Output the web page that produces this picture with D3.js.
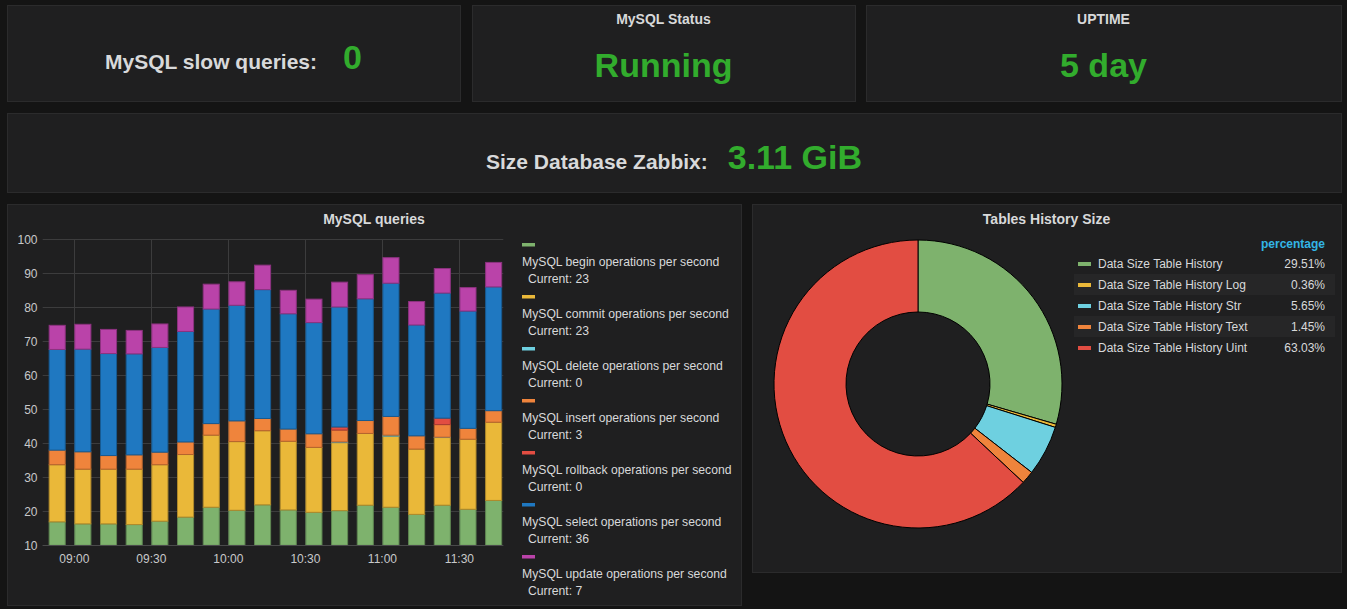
<!DOCTYPE html>
<html><head><meta charset="utf-8">
<script src="https://cdn.jsdelivr.net/npm/d3@7"></script>
<style>
body{margin:0;background:#141414;overflow:hidden}
svg{display:block}
text{font-family:"Liberation Sans",Arial,Helvetica,sans-serif}
</style>
</head><body>
<svg id="c" width="1347" height="609"></svg>
<script>
// ---------- DATA ----------
const times = ["08:50","09:00","09:10","09:20","09:30","09:40","09:50","10:00","10:10","10:20","10:30","10:40","10:50","11:00","11:10","11:20","11:30","11:40"];
const seriesNames = ["MySQL begin operations per second","MySQL commit operations per second","MySQL delete operations per second","MySQL insert operations per second","MySQL rollback operations per second","MySQL select operations per second","MySQL update operations per second"];
const seriesKeys = ["begin","commit","delete","insert","rollback","select","update"];
const seriesColors = ["#7EB26D","#EAB839","#6ED0E0","#EF843C","#E24D42","#1F78C1","#BA43A9"];
const currentValues = [23,23,0,3,0,36,7];
const beginOps    = [16.9,16.3,16.3,16.1,17.1,18.3,21.2,20.3,21.9,20.4,19.7,20.2,21.8,21.2,19.1,21.8,20.6,23.2];
const commitOps   = [16.8,16.1,16.1,16.3,16.6,18.4,21.2,20.2,21.8,20.2,19.1,20.0,21.1,20.9,19.2,19.9,20.6,23.0];
const deleteOps   = [0,0,0,0,0,0,0,0,0,0,0,0.2,0,0.3,0,0.1,0,0];
const insertOps   = [4.3,5.1,4.0,4.2,3.7,3.7,3.4,6.1,3.6,3.6,4.0,3.5,3.8,5.5,3.9,3.7,3.2,3.4];
const rollbackOps = [0,0,0,0,0,0,0,0,0,0,0,0.9,0,0,0,1.9,0,0];
const selectOps   = [29.6,30.2,30.0,29.7,30.8,32.5,33.7,34.0,37.9,33.9,32.7,35.3,35.8,39.2,32.6,36.8,34.5,36.4];
const updateOps   = [7.1,7.3,7.1,6.9,6.9,7.2,7.3,6.9,7.2,6.9,6.9,7.3,7.1,7.5,6.9,7.2,6.9,7.2];
const yTicks = [10,20,30,40,50,60,70,80,90,100];
const xTickLabels = ["09:00","09:30","10:00","10:30","11:00","11:30"];

const pieNames = ["Data Size Table History","Data Size Table History Log","Data Size Table History Str","Data Size Table History Text","Data Size Table History Uint"];
const pieValues = [29.51,0.36,5.65,1.45,63.03];
const pieColors = ["#7EB26D","#EAB839","#6ED0E0","#EF843C","#E24D42"];

const statSlow = {label:"MySQL slow queries:", value:"0"};
const statStatus = {title:"MySQL Status", value:"Running"};
const statUptime = {title:"UPTIME", value:"5 day"};
const statSize = {label:"Size Database Zabbix:", value:"3.11 GiB"};

// ---------- DRAW ----------
const svg = d3.select("#c");
const PANEL_BG = "#1f1f20", PANEL_BORDER = "#2b2b2c", TXT = "#d8d9da", GREEN = "#32ac2d";

function panel(x0,y0,x1,y1){
  svg.append("rect").attr("x",x0+0.5).attr("y",y0+0.5).attr("width",x1-x0).attr("height",y1-y0)
    .attr("fill",PANEL_BG).attr("stroke",PANEL_BORDER);
}
panel(7,5,460,101);
panel(472,5,855,101);
panel(866,5,1341,101);
panel(7,113,1341,192);
panel(7,204,741,605);
panel(752,204,1341,572);

function statPair(cx, base, label, value, gap, lsize, vsize){
  const t = svg.append("text").attr("x",cx).attr("y",base).attr("text-anchor","middle").attr("font-weight","bold");
  t.append("tspan").attr("font-size",lsize).attr("fill",TXT).text(label);
  t.append("tspan").attr("dx",gap).attr("font-size",vsize).attr("fill",GREEN).text(value);
}
statPair(233.5, 69, statSlow.label, statSlow.value, 26, 21, 34);
statPair(674, 169, statSize.label, statSize.value, 20, 21, 34);

function title(cx, base, txt, size){
  svg.append("text").attr("x",cx).attr("y",base).attr("text-anchor","middle")
    .attr("font-weight","bold").attr("font-size",size).attr("fill",TXT).text(txt);
}
title(663.5, 24, statStatus.title, 14);
title(1103.5, 24, statUptime.title, 14);
svg.append("text").attr("x",663.5).attr("y",77).attr("text-anchor","middle").attr("font-weight","bold")
  .attr("font-size",34).attr("fill",GREEN).text(statStatus.value);
svg.append("text").attr("x",1103.5).attr("y",77).attr("text-anchor","middle").attr("font-weight","bold")
  .attr("font-size",34).attr("fill",GREEN).text(statUptime.value);

title(374, 224, "MySQL queries", 14);
title(1046.5, 224, "Tables History Size", 14);

// ---- bar chart ----
const parse = s => { const [h,m]=s.split(":").map(Number); return new Date(2024,0,1,h,m); };
const seriesArrays = [beginOps,commitOps,deleteOps,insertOps,rollbackOps,selectOps,updateOps];
const rows = times.map((t,i)=>{ const r={time:parse(t)}; seriesKeys.forEach((k,j)=>r[k]=seriesArrays[j][i]); return r; });

const x = d3.scaleTime().domain([new Date(2024,0,1,8,47,41), new Date(2024,0,1,11,47,5)]).range([42.7,503.3]);
const y = d3.scaleLinear().domain([10,100]).range([545.3,239.3]).clamp(true);

const gGrid = svg.append("g");
gGrid.selectAll("line.h").data(yTicks).join("line")
  .attr("x1",42.7).attr("x2",503.3).attr("y1",d=>Math.round(y(d))+0.5).attr("y2",d=>Math.round(y(d))+0.5)
  .attr("stroke","#3c3c3d").attr("stroke-width",1);
gGrid.selectAll("line.v").data(xTickLabels).join("line")
  .attr("x1",d=>Math.round(x(parse(d)))+0.5).attr("x2",d=>Math.round(x(parse(d)))+0.5)
  .attr("y1",239.3).attr("y2",545.3).attr("stroke","#3c3c3d").attr("stroke-width",1);

svg.append("g").selectAll("text").data(yTicks).join("text")
  .attr("x",37.5).attr("y",d=>y(d)).attr("dy","0.35em").attr("text-anchor","end")
  .attr("font-size",12).attr("fill","#c8c9ca").text(d=>d);
svg.append("g").selectAll("text").data(xTickLabels).join("text")
  .attr("x",d=>x(parse(d))).attr("y",563).attr("text-anchor","middle")
  .attr("font-size",12).attr("fill","#c8c9ca").text(d=>d);

const stack = d3.stack().keys(seriesKeys)(rows);
const step = x(parse("09:10")) - x(parse("09:00"));
const bw = step*0.665;
const gBars = svg.append("g");
stack.forEach((layer,j)=>{
  gBars.append("g").selectAll("rect").data(layer.filter(d=>d[1]-d[0]>0)).join("rect")
    .attr("x",d=>x(d.data.time)+0.5)
    .attr("width",bw-1)
    .attr("y",d=>y(d[1]))
    .attr("height",d=>Math.max(0,y(d[0])-y(d[1])))
    .attr("fill",seriesColors[j])
    .attr("stroke",d3.color(seriesColors[j]).darker(0.8))
    .attr("stroke-width",1);
});
svg.append("line").attr("x1",42.7).attr("x2",503.3).attr("y1",545.5).attr("y2",545.5).attr("stroke","#4a4a4b");

// legend
const gLeg = svg.append("g");
seriesNames.forEach((n,i)=>{
  const y0 = 244.5 + i*52;
  gLeg.append("rect").attr("x",522).attr("y",y0-1.5).attr("width",13).attr("height",3.5).attr("fill",seriesColors[i]);
  gLeg.append("text").attr("x",522).attr("y",y0+21).attr("font-size",12.2).attr("fill",TXT).text(n);
  gLeg.append("text").attr("x",528).attr("y",y0+38.5).attr("font-size",12.2).attr("fill",TXT).text("Current: "+currentValues[i]);
});

// ---- pie ----
const pie = d3.pie().sort(null).value(d=>d)(pieValues);
const arc = d3.arc().innerRadius(72).outerRadius(144);
const gPie = svg.append("g").attr("transform","translate(918,384)");
gPie.selectAll("path").data(pie).join("path").attr("d",arc)
  .attr("fill",(d,i)=>pieColors[i]).attr("stroke","#000").attr("stroke-width",1);

const gPL = svg.append("g");
gPL.append("text").attr("x",1325).attr("y",247.5).attr("text-anchor","end").attr("font-weight","bold")
  .attr("font-size",12).attr("fill","#33b5e5").text("percentage");
pieNames.forEach((n,i)=>{
  const cy = 263.5 + i*21;
  if(i%2===1) gPL.append("rect").attr("x",1074).attr("y",cy-10.5).attr("width",261).attr("height",21).attr("fill","#262627");
  gPL.append("rect").attr("x",1078).attr("y",cy-1.5).attr("width",13).attr("height",4).attr("fill",pieColors[i]);
  gPL.append("text").attr("x",1098).attr("y",cy).attr("dy","0.35em").attr("font-size",12).attr("fill",TXT).text(n);
  gPL.append("text").attr("x",1325).attr("y",cy).attr("dy","0.35em").attr("text-anchor","end").attr("font-size",12).attr("fill",TXT).text(pieValues[i].toFixed(2)+"%");
});
</script>
</body></html>
